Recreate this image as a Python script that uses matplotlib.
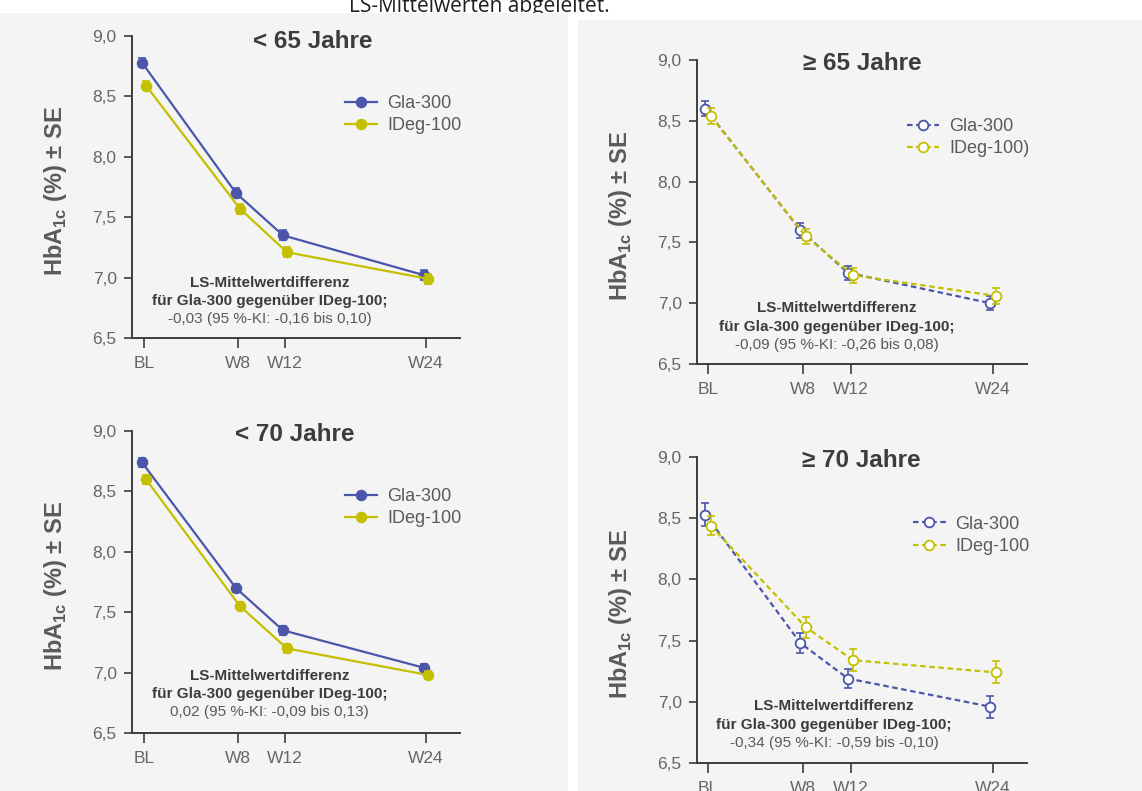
import matplotlib
matplotlib.use("Agg")
import matplotlib.pyplot as plt
from matplotlib.patches import Rectangle

plt.rcParams["font.family"] = ["Liberation Sans", "DejaVu Sans"]
plt.rcParams["mathtext.fontset"] = "custom"
plt.rcParams["mathtext.rm"] = "Liberation Sans"
plt.rcParams["mathtext.bf"] = "Liberation Sans:bold"

# figure size in pixels
W, H = 1142, 791

# shared axis data
weeks = [0, 8, 12, 24]
week_labels = ["BL", "W8", "W12", "W24"]
y_ticks = [6.5, 7.0, 7.5, 8.0, 8.5, 9.0]
y_ticklabels = ["6,5", "7,0", "7,5", "8,0", "8,5", "9,0"]

# HbA1c means and standard errors
gla_u65 = [8.78, 7.70, 7.35, 7.02]
gla_u65_se = [0.04, 0.04, 0.04, 0.04]
ideg_u65 = [8.59, 7.57, 7.21, 6.99]
ideg_u65_se = [0.04, 0.04, 0.04, 0.04]

gla_o65 = [8.60, 7.60, 7.25, 7.00]
gla_o65_se = [0.06, 0.06, 0.06, 0.06]
ideg_o65 = [8.54, 7.55, 7.23, 7.06]
ideg_o65_se = [0.065, 0.06, 0.06, 0.065]

gla_u70 = [8.74, 7.70, 7.35, 7.04]
gla_u70_se = [0.035, 0.035, 0.035, 0.03]
ideg_u70 = [8.60, 7.55, 7.20, 6.98]
ideg_u70_se = [0.035, 0.035, 0.035, 0.035]

gla_o70 = [8.53, 7.48, 7.19, 6.96]
gla_o70_se = [0.095, 0.085, 0.08, 0.09]
ideg_o70 = [8.44, 7.61, 7.34, 7.24]
ideg_o70_se = [0.075, 0.085, 0.09, 0.09]

titles = ["< 65 Jahre", "\u2265 65 Jahre", "< 70 Jahre", "\u2265 70 Jahre"]
legend_labels = [("Gla-300", "IDeg-100"), ("Gla-300", "IDeg-100)"),
                 ("Gla-300", "IDeg-100"), ("Gla-300", "IDeg-100")]
diff_lines = ["-0,03 (95 %-KI: -0,16 bis 0,10)",
              "-0,09 (95 %-KI: -0,26 bis 0,08)",
              "0,02 (95 %-KI: -0,09 bis 0,13)",
              "-0,34 (95 %-KI: -0,59 bis -0,10)"]

BLUE = "#4b56ab"
YELLOW = "#c4c000"
BG = "#f4f4f4"
DARK = "#3c3c3c"
GREY = "#5a5a5a"

# layout (pixel boxes: left, right, top(9.0), bottom(6.5)), title pos, legend pos, note pos
boxes = [(132, 460, 36, 338), (697, 1027, 60, 364),
         (132, 460, 431, 733), (697, 1027, 457, 763)]
xlims = [(-1.02, 26.9), (-0.93, 26.86), (-1.02, 26.9), (-0.93, 26.86)]
title_pos = [(0.552, 0.983), (0.50, 0.987), (0.497, 0.99), (0.497, 0.99)]
legend_pos = [(0.649, 0.805), (0.636, 0.809), (0.649, 0.811), (0.655, 0.808)]
note_pos = [(0.42, 0.182), (0.424, 0.184), (0.42, 0.189), (0.415, 0.186)]
dodge = [0.17, 0.22, 0.17, 0.22]
dashed = [False, True, False, True]

series = [(gla_u65, gla_u65_se, ideg_u65, ideg_u65_se),
          (gla_o65, gla_o65_se, ideg_o65, ideg_o65_se),
          (gla_u70, gla_u70_se, ideg_u70, ideg_u70_se),
          (gla_o70, gla_o70_se, ideg_o70, ideg_o70_se)]

fig = plt.figure(figsize=(W / 100, H / 100), dpi=100)
fig.patch.set_facecolor("white")

# cut-off caption line above the panels
fig.text(610 / W, 1 - 12 / H, "LS-Mittelwerten abgeleitet.", ha="right", va="baseline",
         fontsize=15, family="Open Sans", color="#1e1e1e", zorder=-2)

# light grey panel backgrounds
fig.patches.append(Rectangle((0, 0), 568 / W, 1 - 13 / H, transform=fig.transFigure,
                             facecolor=BG, edgecolor="none", zorder=-1))
fig.patches.append(Rectangle((578 / W, 0), 1 - 578 / W, 1 - 20 / H, transform=fig.transFigure,
                             facecolor=BG, edgecolor="none", zorder=-1))

for i in range(4):
    l, r, t, b = boxes[i]
    ax = fig.add_axes([l / W, 1 - b / H, (r - l) / W, (b - t) / H])
    ax.set_facecolor("none")
    gla, gla_se, ideg, ideg_se = series[i]
    ls = (0, (2.5, 1.6)) if dashed[i] else "-"
    mfc_g = "white" if dashed[i] else BLUE
    mfc_y = "white" if dashed[i] else YELLOW
    xg = [w - dodge[i] for w in weeks]
    xy = [w + dodge[i] for w in weeks]

    ax.errorbar(xg, gla, yerr=gla_se, fmt="none", ecolor=BLUE, elinewidth=1.2,
                capsize=3.2, capthick=1.2, zorder=2)
    ax.plot(xg, gla, color=BLUE, lw=1.6, ls=ls, marker="o", ms=7, mfc=mfc_g,
            mec=BLUE, mew=1.3, label=legend_labels[i][0], zorder=3)
    ax.errorbar(xy, ideg, yerr=ideg_se, fmt="none", ecolor=YELLOW, elinewidth=1.2,
                capsize=3.2, capthick=1.2, zorder=4)
    ax.plot(xy, ideg, color=YELLOW, lw=1.6, ls=ls, marker="o", ms=7, mfc=mfc_y,
            mec=YELLOW, mew=1.3, label=legend_labels[i][1], zorder=5)

    ax.set_xlim(*xlims[i])
    ax.set_ylim(6.5, 9.0)
    ax.set_xticks(weeks)
    ax.set_xticklabels(week_labels)
    ax.set_yticks(y_ticks)
    ax.set_yticklabels(y_ticklabels)
    for s in ["top", "right"]:
        ax.spines[s].set_visible(False)
    for s in ["left", "bottom"]:
        ax.spines[s].set_color(DARK)
        ax.spines[s].set_linewidth(1.4)
    ax.tick_params(axis="y", length=6, width=1.2, color=DARK, pad=5,
                   labelsize=12.5, labelcolor="#666666")
    ax.tick_params(axis="x", length=7, width=1.2, color=DARK, pad=6,
                   labelsize=12.5, labelcolor="#666666")

    ax.set_ylabel(r"HbA$_{\mathbf{1c}}$ (%) ± SE", fontsize=17, fontweight="bold",
                  color=GREY, va="center")
    ax.yaxis.set_label_coords(-0.232, 0.487)

    ax.text(title_pos[i][0], title_pos[i][1], titles[i], transform=ax.transAxes,
            ha="center", va="center", fontsize=17.5, fontweight="bold", color=DARK)

    ax.legend(loc="upper left", bbox_to_anchor=legend_pos[i], frameon=False,
              fontsize=13, labelcolor=GREY, handlelength=1.8, handletextpad=0.55,
              labelspacing=0.3, borderpad=0, borderaxespad=0)

    nx, ny = note_pos[i]
    ax.text(nx, ny, "LS-Mittelwertdifferenz", transform=ax.transAxes, ha="center",
            va="center", fontsize=11, fontweight="bold", color=DARK)
    ax.text(nx, ny - 0.061, "für Gla-300 gegenüber IDeg-100;", transform=ax.transAxes,
            ha="center", va="center", fontsize=11, fontweight="bold", color=DARK)
    ax.text(nx, ny - 0.12, diff_lines[i], transform=ax.transAxes, ha="center",
            va="center", fontsize=11, color=GREY)

fig.savefig("out.png", dpi=100, facecolor=fig.get_facecolor())
